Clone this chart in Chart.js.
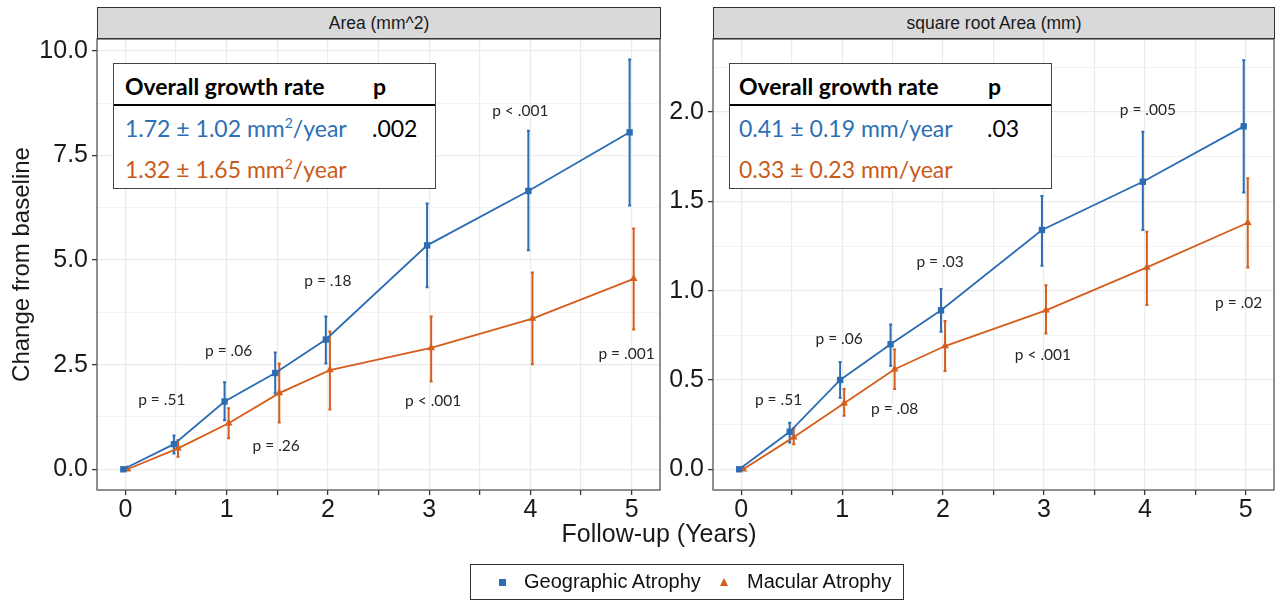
<!DOCTYPE html>
<html>
<head>
<meta charset="utf-8">
<script src="https://cdn.jsdelivr.net/npm/chart.js@4.4.0/dist/chart.umd.min.js"></script>
<style>
  body { margin: 0; background: #fff; width: 1279px; height: 608px; position: relative; overflow: hidden; font-family: "Liberation Sans", Arial, sans-serif; }
  canvas { position: absolute; top: 0; }
  #areaChart { left: 0; }
  #sqrtChart { left: 660px; }
  .strip { position: absolute; top: 7px; height: 32px; background: #d9d9d9; border: 1px solid #333; box-sizing: border-box; text-align: center; font-size: 17.5px; line-height: 30px; color: #1a1a1a; }
  .tbl { position: absolute; top: 63px; width: 323px; height: 126px; border: 1.5px solid #444; box-sizing: border-box; background: #fff; font-family: Lato, sans-serif; font-size: 23px; }
  .tbl span { position: absolute; white-space: nowrap; line-height: 26px; }
  .tbl .hd { font-weight: bold; color: #000; top: 9px; }
  .tbl .rule { position: absolute; left: 0; right: 0; top: 40px; height: 2px; background: #000; }
  .tbl .r1 { top: 51px; }
  .tbl .r2 { top: 92px; }
  .blue { color: #2e6fb4; }
  .orange { color: #c95b1a; }
  .tbl sup { font-size: 14px; vertical-align: 9px; line-height: 0; }
  .xtitle { position: absolute; left: 459px; width: 400px; top: 519px; text-align: center; font-size: 25px; color: #1a1a1a; }
  .legend { position: absolute; left: 470px; top: 564px; width: 434px; height: 36px; border: 1.5px solid #333; box-sizing: border-box; font-size: 20px; color: #111; }
  .legend span { position: absolute; top: 5px; white-space: nowrap; }
  .sq { position: absolute; left: 28px; top: 14px; width: 7px; height: 7px; background: #2b6cb3; }
  .tri { position: absolute; left: 249px; top: 13px; width: 0; height: 0; border-left: 4px solid transparent; border-right: 4px solid transparent; border-bottom: 8px solid #d55e1c; }
</style>
</head>
<body>
<canvas id="areaChart" width="670" height="530"></canvas>
<canvas id="sqrtChart" width="619" height="530"></canvas>

<div class="strip" style="left:97px;width:564px;">Area (mm^2)</div>
<div class="strip" style="left:713px;width:562px;">square root Area (mm)</div>

<div class="tbl" style="left:113px;">
  <span class="hd" style="left:11px;">Overall growth rate</span>
  <span class="hd" style="left:259px;">p</span>
  <div class="rule"></div>
  <span class="r1 blue" style="left:11px;">1.72 ± 1.02 mm<sup>2</sup>/year</span>
  <span class="r1" style="left:258px;">.002</span>
  <span class="r2 orange" style="left:11px;">1.32 ± 1.65 mm<sup>2</sup>/year</span>
</div>
<div class="tbl" style="left:729px;">
  <span class="hd" style="left:9px;">Overall growth rate</span>
  <span class="hd" style="left:258px;">p</span>
  <div class="rule"></div>
  <span class="r1 blue" style="left:9px;">0.41 ± 0.19 mm/year</span>
  <span class="r1" style="left:257px;">.03</span>
  <span class="r2 orange" style="left:9px;">0.33 ± 0.23 mm/year</span>
</div>

<div class="xtitle">Follow-up (Years)</div>

<div class="legend">
  <div class="sq"></div><span style="left:53px;">Geographic Atrophy</span>
  <div class="tri"></div><span style="left:276px;">Macular Atrophy</span>
</div>

<script>
// follow-up visits (years)
const years = [0, 0.5, 1, 1.5, 2, 3, 4, 5];

// Area (mm^2): mean change and error bar ends
const gaArea   = [0, 0.60, 1.62, 2.30, 3.10, 5.35, 6.65, 8.05];
const gaAreaLo = [0, 0.38, 1.17, 1.81, 2.53, 4.35, 5.23, 6.30];
const gaAreaHi = [0, 0.81, 2.08, 2.79, 3.65, 6.35, 8.09, 9.79];
const maArea   = [0, 0.50, 1.10, 1.82, 2.37, 2.90, 3.60, 4.55];
const maAreaLo = [0, 0.30, 0.74, 1.12, 1.43, 2.10, 2.51, 3.34];
const maAreaHi = [0, 0.70, 1.46, 2.53, 3.29, 3.65, 4.70, 5.75];

// square root Area (mm)
const gaSqrt   = [0, 0.21, 0.50, 0.70, 0.89, 1.34, 1.61, 1.92];
const gaSqrtLo = [0, 0.15, 0.40, 0.58, 0.77, 1.14, 1.34, 1.55];
const gaSqrtHi = [0, 0.26, 0.60, 0.81, 1.01, 1.53, 1.89, 2.29];
const maSqrt   = [0, 0.18, 0.37, 0.56, 0.69, 0.89, 1.13, 1.38];
const maSqrtLo = [0, 0.14, 0.30, 0.45, 0.55, 0.76, 0.92, 1.13];
const maSqrtHi = [0, 0.23, 0.45, 0.67, 0.83, 1.03, 1.33, 1.63];

// axis breaks
const xBreaks = [0, 0.5, 1, 1.5, 2, 2.5, 3, 3.5, 4, 4.5, 5];
const areaTicks = [0, 2.5, 5, 7.5, 10];
const sqrtTicks = [0, 0.5, 1, 1.5, 2];

// p-value annotations (text, x, y in data units)
const areaPText = ['p = .51', 'p = .06', 'p = .26', 'p = .18', 'p < .001', 'p < .001', 'p = .001'];
const areaPX    = [0.36, 1.02, 1.49, 2.00, 3.04, 3.90, 4.95];
const areaPY    = [1.66, 2.83, 0.56, 4.49, 1.63, 8.56, 2.75];
const sqrtPText = ['p = .51', 'p = .06', 'p = .08', 'p = .03', 'p < .001', 'p = .005', 'p = .02'];
const sqrtPX    = [0.37, 0.97, 1.52, 1.97, 2.99, 4.03, 4.93];
const sqrtPY    = [0.39, 0.73, 0.34, 1.16, 0.64, 2.01, 0.93];

const GA_COLOR = '#2b6cb3';
const MA_COLOR = '#d55e1c';

Chart.defaults.font.family = '"Liberation Sans", Arial, sans-serif';
Chart.defaults.color = '#1a1a1a';

// small horizontal dodge like ggplot position_dodge
const toPoints = (vals, dodge) => vals.map((v, i) => ({ x: years[i] + dodge, y: v }));

// error bars, panel border and p-value text
const extrasPlugin = {
    id: 'extras',
    beforeDatasetsDraw(chart) {
        const { ctx, scales: { x, y } } = chart;
        ctx.save();
        chart.data.datasets.forEach(ds => {
            ctx.strokeStyle = ds.borderColor;
            ctx.lineWidth = 2;
            ds.data.forEach((p, i) => {
                const lo = ds.errLo[i], hi = ds.errHi[i];
                if (lo === hi) return;
                const px = x.getPixelForValue(p.x);
                const y1 = y.getPixelForValue(lo), y2 = y.getPixelForValue(hi);
                ctx.beginPath();
                ctx.moveTo(px, y1); ctx.lineTo(px, y2);
                ctx.moveTo(px - 1.5, y1); ctx.lineTo(px + 1.5, y1);
                ctx.moveTo(px - 1.5, y2); ctx.lineTo(px + 1.5, y2);
                ctx.stroke();
            });
        });
        ctx.restore();
    },
    afterDraw(chart, args, opts) {
        const { ctx, chartArea: a, scales: { x, y } } = chart;
        ctx.save();
        ctx.fillStyle = '#262626';
        ctx.font = '15.5px Lato, sans-serif';
        ctx.textAlign = 'center';
        ctx.textBaseline = 'middle';
        opts.text.forEach((t, i) => {
            ctx.fillText(t, x.getPixelForValue(opts.px[i]), y.getPixelForValue(opts.py[i]));
        });
        ctx.strokeStyle = '#555';
        ctx.lineWidth = 1.3;
        ctx.strokeRect(a.left, a.top, a.right - a.left, a.bottom - a.top);
        ctx.restore();
    }
};

function makeChart(id, cfg) {
    const majors = cfg.yTicks;
    const step = majors[1] - majors[0];
    const yAll = [];
    majors.forEach(v => { yAll.push(v); yAll.push(v + step / 2); });
    return new Chart(document.getElementById(id), {
        type: 'line',
        data: {
            datasets: [{
                label: 'Geographic Atrophy',
                data: toPoints(cfg.ga, -0.02),
                errLo: cfg.gaLo, errHi: cfg.gaHi,
                borderColor: GA_COLOR, backgroundColor: GA_COLOR,
                borderWidth: 1.8, pointStyle: 'rect', pointRadius: 4.5, pointBorderWidth: 0
            }, {
                label: 'Macular Atrophy',
                data: toPoints(cfg.ma, 0.02),
                errLo: cfg.maLo, errHi: cfg.maHi,
                borderColor: MA_COLOR, backgroundColor: MA_COLOR,
                borderWidth: 1.8, pointStyle: 'triangle', pointRadius: 4.5, pointBorderWidth: 0
            }]
        },
        options: {
            responsive: false,
            animation: false,
            layout: { padding: { left: 0, top: 39, right: cfg.padRight, bottom: 0 } },
            plugins: {
                legend: { display: false },
                tooltip: { enabled: false },
                extras: { text: cfg.pText, px: cfg.pX, py: cfg.pY }
            },
            scales: {
                x: {
                    type: 'linear', min: -0.28, max: 5.28,
                    afterBuildTicks: s => { s.ticks = xBreaks.map(v => ({ value: v })); },
                    afterFit: s => { s.height = 40; },
                    border: { display: false },
                    grid: { color: '#ebebeb', lineWidth: 1.2, tickColor: '#333', tickLength: 5, tickWidth: 1.3 },
                    ticks: {
                        autoSkip: false, maxRotation: 0, padding: 0,
                        font: { size: 25 }, color: '#1a1a1a',
                        callback: v => Number.isInteger(v) ? String(v) : ''
                    }
                },
                y: {
                    type: 'linear', min: cfg.yMin, max: cfg.yMax,
                    afterBuildTicks: s => { s.ticks = yAll.filter(v => v <= cfg.yMax).map(v => ({ value: v })); },
                    afterFit: s => { s.width = cfg.yWidth; },
                    border: { display: false },
                    grid: {
                        color: '#ebebeb',
                        lineWidth: c => majors.includes(c.tick.value) ? 1.2 : 0.6,
                        tickColor: c => majors.includes(c.tick.value) ? '#333' : 'rgba(0,0,0,0)',
                        tickLength: 5, tickWidth: 1.3
                    },
                    ticks: {
                        autoSkip: false, padding: 4,
                        font: { size: 25 }, color: '#1a1a1a',
                        callback: v => majors.includes(v) ? v.toFixed(1) : ''
                    },
                    title: cfg.yTitle ? {
                        display: true, text: 'Change from baseline',
                        font: { size: 24 }, color: '#1a1a1a', padding: { top: 8, bottom: 0 }
                    } : { display: false }
                }
            }
        },
        plugins: [extrasPlugin]
    });
}

makeChart('areaChart', {
    ga: gaArea, gaLo: gaAreaLo, gaHi: gaAreaHi,
    ma: maArea, maLo: maAreaLo, maHi: maAreaHi,
    yTicks: areaTicks, yMin: -0.495, yMax: 10.28,
    pText: areaPText, pX: areaPX, pY: areaPY,
    yWidth: 97, padRight: 10, yTitle: true
});

makeChart('sqrtChart', {
    ga: gaSqrt, gaLo: gaSqrtLo, gaHi: gaSqrtHi,
    ma: maSqrt, maLo: maSqrtLo, maHi: maSqrtHi,
    yTicks: sqrtTicks, yMin: -0.116, yMax: 2.409,
    pText: sqrtPText, pX: sqrtPX, pY: sqrtPY,
    yWidth: 53, padRight: 5, yTitle: false
});
</script>
</body>
</html>
